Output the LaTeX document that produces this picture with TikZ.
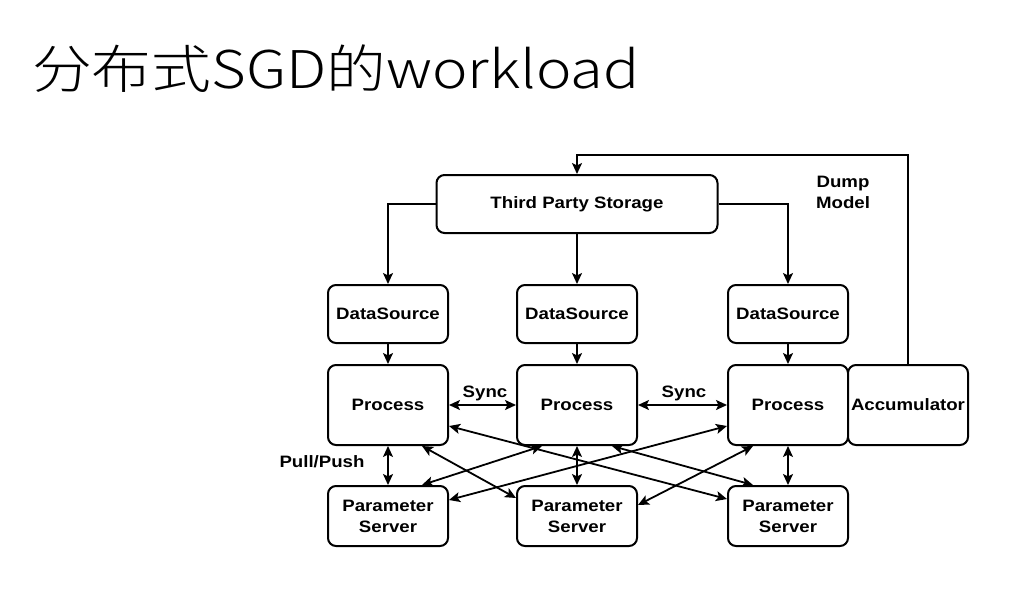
\documentclass[tikz,border=0pt]{standalone}
\usepackage{fontspec}
\usetikzlibrary{arrows.meta,positioning,calc}
\newfontfamily\boxfont[FakeStretch=1.13,BoldFont={Liberation Sans Bold}]{Liberation Sans}
\IfFontExistsTF{Noto Sans CJK SC Light}
  {\newfontfamily\titlefont[FakeStretch=1.15]{Noto Sans CJK SC Light}}
  {\newfontfamily\titlefont[FakeStretch=1.15]{Noto Sans CJK SC}}
\begin{document}
\begin{tikzpicture}[x=1pt,y=-1pt,
  box/.style={draw=black,line width=2pt,rounded corners=8pt,fill=white,
    minimum width=120pt,align=center,inner sep=0pt,
    font=\boxfont\fontsize{16.5}{21}\selectfont\bfseries},
  conn/.style={line width=1.8pt,-{Stealth[length=11pt,width=10pt,inset=2.5pt]}},
  dconn/.style={line width=1.8pt,{Stealth[length=11pt,width=10pt,inset=2.5pt]}-{Stealth[length=11pt,width=10pt,inset=2.5pt]}},
  lbl/.style={font=\boxfont\fontsize{16.5}{21}\selectfont\bfseries,inner sep=0pt,align=center}]
\useasboundingbox (0,0) rectangle (1010,590);
\fill[white] (0,0) rectangle (1010,590);
% title
\node[anchor=base west,inner sep=0pt,font=\titlefont\fontsize{52}{60}\selectfont] (title) at (32,88) {分布式SGD的workload};
% nodes
\node[box,minimum width=281pt,minimum height=58pt] (tps) at (577,204) {Third Party Storage};
\node[box,minimum height=58pt] (ds1) at (388,314) {DataSource};
\node[box,minimum height=58pt] (ds2) at (577,314) {DataSource};
\node[box,minimum height=58pt] (ds3) at (788,314) {DataSource};
\node[box,minimum height=80pt] (p1) at (388,405) {Process};
\node[box,minimum height=80pt] (p2) at (577,405) {Process};
\node[box,minimum height=80pt] (p3) at (788,405) {Process};
\node[box,minimum height=80pt] (acc) at (908,405) {Accumulator};
\node[box,minimum height=60pt] (s1) at (388,516) {Parameter\\Server};
\node[box,minimum height=60pt] (s2) at (577,516) {Parameter\\Server};
\node[box,minimum height=60pt] (s3) at (788,516) {Parameter\\Server};
% labels
\node[lbl] (dump) at (843,192) {Dump\\Model};
\node[lbl] (sync1) at (485,393) {Sync};
\node[lbl] (sync2) at (684,393) {Sync};
\node[lbl] (pp) at (322,462) {Pull/Push};
% connectors
\coordinate (top) at (577,155);
\draw[conn] (acc.north) |- (top) -- (tps.north);
\draw[conn] (tps.west) -| (ds1.north);
\draw[conn] (tps.south) -- (ds2.north);
\draw[conn] (tps.east) -| (ds3.north);
\draw[conn] (ds1.south) -- (p1.north);
\draw[conn] (ds2.south) -- (p2.north);
\draw[conn] (ds3.south) -- (p3.north);
\draw[dconn] (p1.east) -- (p2.west);
\draw[dconn] (p2.east) -- (p3.west);
\draw[dconn] (p1.south) -- (s1.north);
\draw[dconn] (p2.south) -- (s2.north);
\draw[dconn] (p3.south) -- (s3.north);
\draw[dconn] ([yshift=-21pt]p1.east) -- ([yshift=17pt]s3.west);
\draw[dconn] ([xshift=34pt]p1.south) -- ([yshift=18pt]s2.west);
\draw[dconn] ([xshift=-35pt]p2.south) -- ([xshift=34pt]s1.north);
\draw[dconn] ([yshift=-21pt]p3.west) -- ([yshift=16pt]s1.east);
\draw[dconn] ([xshift=35pt]p2.south) -- ([xshift=-35pt]s3.north);
\draw[dconn] ([xshift=-35pt]p3.south) -- ([yshift=11pt]s2.east);
\end{tikzpicture}
\end{document}
